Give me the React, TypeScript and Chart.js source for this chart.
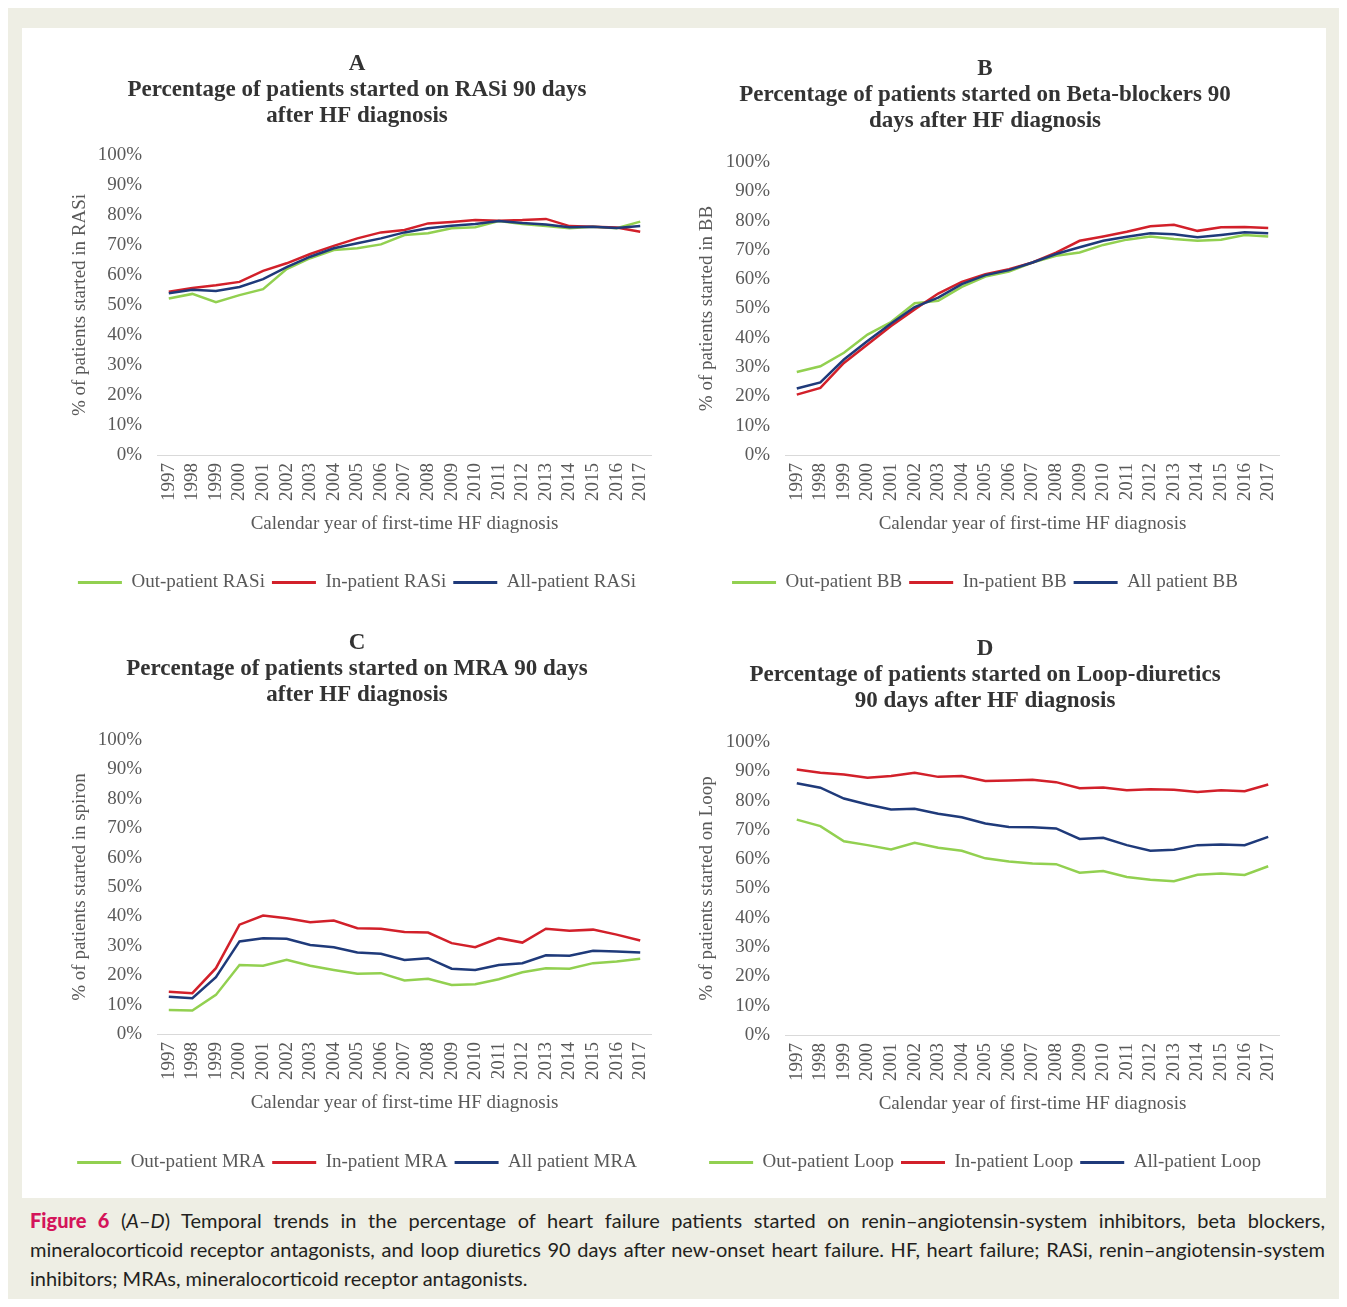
import React, { useEffect, useRef } from "react";
import { Chart, registerables } from "chart.js";

Chart.register(...registerables);

// ---------- data ----------
const years = [
  "1997", "1998", "1999", "2000", "2001", "2002", "2003", "2004", "2005", "2006", "2007",
  "2008", "2009", "2010", "2011", "2012", "2013", "2014", "2015", "2016", "2017",
];

const yTicksPct = [0, 10, 20, 30, 40, 50, 60, 70, 80, 90, 100];

// A: RASi
const rasiOut = [52.2, 53.7, 50.9, 53.3, 55.3, 62.0, 65.6, 68.3, 68.9, 70.2, 73.3, 73.9, 75.6, 75.9, 78.0, 77.0, 76.3, 75.6, 76.1, 75.6, 77.8];
const rasiIn = [54.4, 55.7, 56.6, 57.7, 61.4, 63.9, 67.0, 69.7, 72.2, 74.2, 75.0, 77.2, 77.7, 78.3, 78.1, 78.3, 78.7, 76.3, 76.1, 75.8, 74.4];
const rasiAll = [53.9, 55.1, 54.7, 56.0, 58.6, 62.6, 66.1, 68.9, 70.6, 72.2, 74.2, 75.6, 76.4, 77.0, 78.0, 77.3, 76.8, 75.9, 76.1, 75.7, 76.3];

// B: Beta-blockers
const bbOut = [28.3, 30.3, 34.9, 41.1, 45.4, 51.8, 52.6, 57.4, 60.9, 62.6, 65.7, 68.0, 69.1, 71.7, 73.5, 74.6, 73.7, 73.1, 73.5, 75.1, 74.6];
const bbIn = [20.6, 22.9, 31.4, 37.7, 44.0, 49.7, 55.1, 59.1, 61.7, 63.4, 65.7, 69.1, 73.1, 74.6, 76.2, 78.1, 78.6, 76.5, 77.7, 77.8, 77.5];
const bbAll = [22.7, 24.8, 32.6, 38.9, 44.9, 50.5, 53.7, 58.3, 61.4, 63.1, 65.7, 68.6, 70.9, 73.1, 74.5, 75.7, 75.3, 74.3, 75.1, 76.0, 75.7];

// C: MRA
const mraOut = [8.2, 8.0, 13.3, 23.5, 23.2, 25.2, 23.2, 21.8, 20.5, 20.7, 18.2, 18.8, 16.7, 16.9, 18.6, 21.0, 22.4, 22.2, 24.1, 24.7, 25.6];
const mraIn = [14.4, 13.9, 22.4, 37.2, 40.3, 39.4, 38.0, 38.6, 36.0, 35.8, 34.7, 34.5, 30.9, 29.5, 32.6, 31.1, 35.8, 35.1, 35.5, 33.8, 31.8];
const mraAll = [12.7, 12.2, 19.3, 31.5, 32.6, 32.4, 30.3, 29.5, 27.7, 27.3, 25.2, 25.8, 22.2, 21.8, 23.5, 24.1, 26.8, 26.6, 28.3, 28.1, 27.7];

// D: Loop-diuretics
const loopOut = [73.5, 71.3, 66.1, 64.8, 63.3, 65.6, 63.9, 62.9, 60.3, 59.2, 58.5, 58.3, 55.4, 56.0, 53.9, 53.0, 52.5, 54.7, 55.1, 54.6, 57.6];
const loopIn = [90.6, 89.5, 88.9, 87.8, 88.4, 89.5, 88.1, 88.4, 86.7, 86.9, 87.1, 86.3, 84.2, 84.5, 83.5, 83.9, 83.7, 82.9, 83.5, 83.2, 85.5];
const loopAll = [85.9, 84.4, 80.7, 78.7, 77.0, 77.2, 75.5, 74.3, 72.2, 71.0, 70.9, 70.5, 66.9, 67.3, 64.8, 62.9, 63.2, 64.8, 65.0, 64.8, 67.6];

const xAxisTitle = "Calendar year of first-time HF diagnosis";

const titlesA = ["A", "Percentage of patients started on RASi 90 days", "after HF diagnosis"];
const titlesB = ["B", "Percentage of patients started on Beta-blockers 90", "days after HF diagnosis"];
const titlesC = ["C", "Percentage of patients started on MRA 90 days", "after HF diagnosis"];
const titlesD = ["D", "Percentage of patients started on Loop-diuretics", "90 days after HF diagnosis"];

const legendA = ["Out-patient RASi", "In-patient RASi", "All-patient RASi"];
const legendB = ["Out-patient BB", "In-patient BB", "All patient BB"];
const legendC = ["Out-patient MRA", "In-patient MRA", "All patient MRA"];
const legendD = ["Out-patient Loop", "In-patient Loop", "All-patient Loop"];

const yTitleA = "% of patients started in RASi";
const yTitleB = "% of patients started in BB";
const yTitleC = "% of patients started in spiron";
const yTitleD = "% of patients started on Loop";

// ---------- style ----------
const GREEN = "#92D050";
const RED = "#D2202A";
const BLUE = "#1F3A7A";
const TEXT = "#595959";
const TITLE = "#333333";
const SERIF = "'Liberation Serif', 'Times New Roman', serif";

type Spec = {
  left: number;
  top: number;
  w: number;
  h: number;
  padL: number;
  titleTop: number;
  titleBottom: number;
  xH: number;
  xTitleBottom: number;
  yTitleTop: number;
  titles: string[];
  legend: string[];
  yTitle: string;
  out: number[];
  inp: number[];
  all: number[];
};

function buildConfig(s: Spec): any {
  const font = { family: SERIF, size: 19 };
  const mk = (label: string, data: number[], color: string, order: number) => ({
    label,
    data,
    borderColor: color,
    backgroundColor: color,
    borderWidth: 2.5,
    pointRadius: 0,
    pointHoverRadius: 0,
    tension: 0,
    fill: false,
    order,
  });
  return {
    type: "line",
    data: {
      labels: years,
      datasets: [
        mk(s.legend[0], s.out, GREEN, 2),
        mk(s.legend[1], s.inp, RED, 1),
        mk(s.legend[2], s.all, BLUE, 0),
      ],
    },
    options: {
      responsive: false,
      animation: false,
      events: [],
      layout: { padding: { left: s.padL, right: 0, top: 0, bottom: 0 } },
      plugins: {
        tooltip: { enabled: false },
        title: {
          display: true,
          text: s.titles,
          color: TITLE,
          font: { family: SERIF, size: 23, weight: "bold", lineHeight: 26 / 23 },
          padding: { top: s.titleTop, bottom: s.titleBottom },
        },
        legend: {
          position: "bottom",
          labels: {
            boxWidth: 44,
            boxHeight: 3,
            padding: 7,
            color: TEXT,
            font,
            sort: (a: any, b: any) => a.datasetIndex - b.datasetIndex,
            generateLabels: (chart: any) =>
              (Chart.defaults.plugins.legend.labels.generateLabels as any)(chart).map((l: any) => ({
                ...l,
                lineWidth: 0,
              })),
          },
        },
      },
      scales: {
        x: {
          type: "category",
          offset: true,
          grid: { display: false, drawTicks: false },
          border: { display: true, color: "#D9D9D9", width: 1 },
          ticks: {
            autoSkip: false,
            minRotation: 90,
            maxRotation: 90,
            padding: 8,
            color: TEXT,
            font,
          },
          title: {
            display: true,
            text: xAxisTitle,
            color: TEXT,
            font,
            padding: { top: 0, bottom: s.xTitleBottom },
          },
          afterFit: (sc: any) => {
            sc.height = s.xH;
            sc.paddingLeft = 0;
            sc.paddingRight = 0;
          },
        },
        y: {
          min: 0,
          max: 100,
          afterBuildTicks: (sc: any) => {
            sc.ticks = yTicksPct.map((v) => ({ value: v }));
          },
          ticks: {
            callback: (v: any) => `${v}%`,
            padding: 15,
            color: TEXT,
            font,
          },
          grid: { display: false, drawTicks: false },
          border: { display: false },
          title: {
            display: true,
            text: s.yTitle,
            color: TEXT,
            font,
            padding: { top: s.yTitleTop, bottom: 0 },
          },
          afterFit: (sc: any) => {
            sc.width = 95;
          },
        },
      },
    },
  };
}

const specs: Spec[] = [
  {
    left: 14, top: 32, w: 630, h: 562, padL: 40, titleTop: 11, titleBottom: 26, xH: 111, xTitleBottom: 31, yTitleTop: 6.6,
    titles: titlesA, legend: legendA, yTitle: yTitleA, out: rasiOut, inp: rasiIn, all: rasiAll,
  },
  {
    left: 666, top: 32, w: 606, h: 562, padL: 16, titleTop: 16, titleBottom: 28, xH: 111, xTitleBottom: 31, yTitleTop: 5.6,
    titles: titlesB, legend: legendB, yTitle: yTitleB, out: bbOut, inp: bbIn, all: bbAll,
  },
  {
    left: 14, top: 611, w: 630, h: 563, padL: 40, titleTop: 11, titleBottom: 32, xH: 112, xTitleBottom: 32, yTitleTop: 6.6,
    titles: titlesC, legend: legendC, yTitle: yTitleC, out: mraOut, inp: mraIn, all: mraAll,
  },
  {
    left: 666, top: 612, w: 606, h: 562, padL: 16, titleTop: 16, titleBottom: 28, xH: 111, xTitleBottom: 31, yTitleTop: 5.6,
    titles: titlesD, legend: legendD, yTitle: yTitleD, out: loopOut, inp: loopIn, all: loopAll,
  },
];

function Panel({ spec }: { spec: Spec }) {
  const ref = useRef<HTMLCanvasElement | null>(null);
  useEffect(() => {
    if (!ref.current) return;
    const chart = new Chart(ref.current, buildConfig(spec));
    return () => chart.destroy();
  }, [spec]);
  return (
    <canvas
      ref={ref}
      width={spec.w}
      height={spec.h}
      style={{ position: "absolute", left: spec.left, top: spec.top, width: spec.w, height: spec.h }}
    />
  );
}

export default function App() {
  const capFont = "Lato, 'Open Sans', sans-serif";
  const lineStyle: React.CSSProperties = {
    textAlign: "justify",
    textAlignLast: "justify" as any,
    whiteSpace: "nowrap",
  };
  return (
    <div style={{ position: "relative", width: 1331, height: 1291, background: "#EEEEE4" }}>
      <div style={{ position: "absolute", left: 14, top: 20, width: 1304, height: 1170, background: "#FFFFFF" }} />
      {specs.map((s, i) => (
        <Panel key={i} spec={s} />
      ))}
      <div
        style={{
          position: "absolute",
          left: 22,
          top: 1198,
          width: 1295,
          fontFamily: capFont,
          fontSize: 20,
          lineHeight: "29px",
          color: "#231F20",
        }}
      >
        <div style={lineStyle}>
          <span style={{ color: "#D4145A", fontWeight: 900 }}>Figure 6</span> (<i>A</i>–<i>D</i>) Temporal trends in the
          percentage of heart failure patients started on renin–angiotensin-system inhibitors, beta blockers,
        </div>
        <div style={lineStyle}>
          mineralocorticoid receptor antagonists, and loop diuretics 90 days after new-onset heart failure. HF, heart
          failure; RASi, renin–angiotensin-system
        </div>
        <div style={{ whiteSpace: "nowrap" }}>inhibitors; MRAs, mineralocorticoid receptor antagonists.</div>
      </div>
    </div>
  );
}
